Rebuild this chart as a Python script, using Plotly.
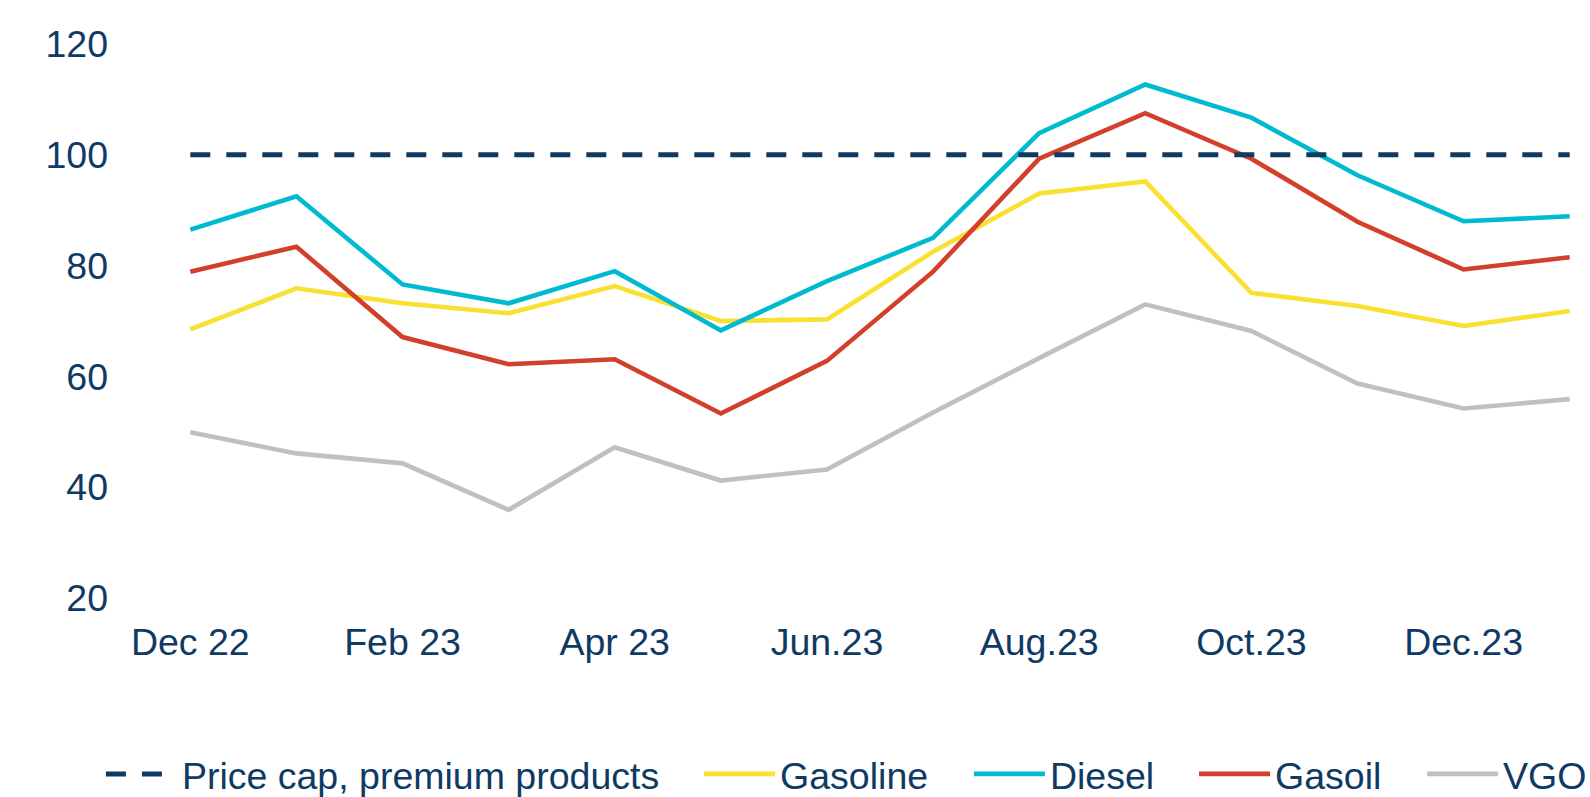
import plotly.graph_objects as go

months = ["Dec 22", "Jan 23", "Feb 23", "Mar 23", "Apr 23", "May 23", "Jun.23",
          "Jul.23", "Aug.23", "Sep.23", "Oct.23", "Nov.23", "Dec.23", "Jan.24"]
tick_labels = ["Dec 22", "Feb 23", "Apr 23", "Jun.23", "Aug.23", "Oct.23", "Dec.23"]

price_cap = [100] * 14
gasoline = [68.5, 75.9, 73.2, 71.4, 76.3, 70.0, 70.3, 82.5, 93.0, 95.2, 75.1, 72.7, 69.1, 71.8]
diesel = [86.5, 92.5, 76.6, 73.2, 79.0, 68.3, 77.2, 85.0, 103.9, 112.7, 106.7, 96.3, 88.0, 88.9]
gasoil = [78.9, 83.4, 67.1, 62.2, 63.1, 53.3, 62.8, 78.9, 99.3, 107.5, 99.3, 87.9, 79.3, 81.5]
vgo = [49.9, 46.1, 44.3, 35.9, 47.2, 41.2, 43.2, 53.5, 63.3, 73.0, 68.2, 58.7, 54.2, 55.9]

NAVY = "#0E3A64"
FONT = "Liberation Sans, Arial, sans-serif"
FS = 37.5

L, R, T, B = 185, 15, 44, 199
W, H = 1590, 797
PW = W - L - R
PH = H - T - B

def px_to_paper_x(px):
    return (px - L) / PW

legend_y = (H - B - 774) / PH

fig = go.Figure()
series = [
    ("Gasoline", gasoline, "#F9E031", "legend2", 704.7),
    ("Diesel", diesel, "#00BBD0", "legend3", 974.5),
    ("Gasoil", gasoil, "#D2402B", "legend4", 1199.6),
    ("VGO", vgo, "#C0C0C0", "legend5", 1427.7),
]
for name, vals, color, lg, _ in series:
    fig.add_trace(go.Scatter(x=months, y=vals, name=name, mode="lines",
                             line=dict(color=color, width=4.6), legend=lg))
fig.add_trace(go.Scatter(x=months, y=price_cap, name="Price cap, premium products",
                         mode="lines", line=dict(color=NAVY, width=5, dash="20px,16px"),
                         legend="legend"))

def legend_cfg(px):
    return dict(orientation="h", x=px_to_paper_x(px - 5.6), xanchor="left",
                y=legend_y, yanchor="middle", itemwidth=71,
                font=dict(family=FONT, size=FS, color=NAVY),
                bgcolor="rgba(0,0,0,0)", borderwidth=0)

layout_legends = {"legend": legend_cfg(106.5)}
for name, vals, color, lg, pos in series:
    layout_legends[lg] = legend_cfg(pos)

fig.update_layout(
    width=W, height=H,
    paper_bgcolor="white", plot_bgcolor="white",
    margin=dict(l=L, r=R, t=T, b=B, autoexpand=False),
    font=dict(family=FONT, size=FS, color=NAVY),
    showlegend=True,
    xaxis=dict(type="category", range=[-0.05, 13.05], tickmode="array",
               tickvals=tick_labels, ticktext=tick_labels, showgrid=False,
               zeroline=False, showline=False, ticks="", ticklabelstandoff=18),
    yaxis=dict(range=[20, 120], tickvals=[20, 40, 60, 80, 100, 120], showgrid=False,
               zeroline=False, showline=False, ticks="", ticklabelstandoff=76),
    **layout_legends,
)

fig.write_html("out.html", config={"displayModeBar": False},
               post_script="document.body.style.margin='0';document.body.style.overflow='hidden';")
